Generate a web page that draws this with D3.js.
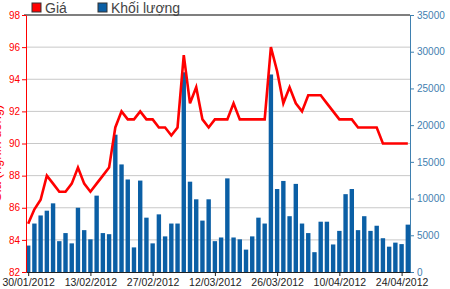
<!DOCTYPE html>
<html>
<head>
	<meta charset="utf-8">
	<title>Giá - Khối lượng</title>
	<script type="text/javascript" src="https://cdn.jsdelivr.net/npm/d3@7"></script>
	<style type="text/css">
		body { margin: 0; background: #fff; }
		.chart text { font-family: Arial, "Liberation Sans", sans-serif; }
	</style>
</head>
<body>

	<svg width=450 height=289 class="chart"></svg>

	<script type="text/javascript">

		dates = ['30/01/2012','31/01/2012','01/02/2012','02/02/2012','03/02/2012','06/02/2012','07/02/2012','08/02/2012','09/02/2012','10/02/2012',
			'13/02/2012','14/02/2012','15/02/2012','16/02/2012','17/02/2012','20/02/2012','21/02/2012','22/02/2012','23/02/2012','24/02/2012',
			'27/02/2012','28/02/2012','29/02/2012','01/03/2012','02/03/2012','05/03/2012','06/03/2012','07/03/2012','08/03/2012','09/03/2012',
			'12/03/2012','13/03/2012','14/03/2012','15/03/2012','16/03/2012','19/03/2012','20/03/2012','21/03/2012','22/03/2012','23/03/2012',
			'26/03/2012','27/03/2012','28/03/2012','29/03/2012','30/03/2012','03/04/2012','04/04/2012','05/04/2012','06/04/2012','09/04/2012',
			'10/04/2012','11/04/2012','12/04/2012','13/04/2012','16/04/2012','17/04/2012','18/04/2012','19/04/2012','20/04/2012','23/04/2012',
			'24/04/2012','25/04/2012']

		// giá (nghìn đồng)
		prices = [85.0, 85.9, 86.5, 88.0, 87.5, 87.0, 87.0, 87.5, 88.5, 87.5,
			87.0, 87.5, 88.0, 88.5, 91.0, 92.0, 91.5, 91.5, 92.0, 91.5,
			91.5, 91.0, 91.0, 90.5, 91.0, 95.5, 92.5, 93.5, 91.5, 91.0,
			91.5, 91.5, 91.5, 92.5, 91.5, 91.5, 91.5, 91.5, 91.5, 96.0,
			94.5, 92.5, 93.5, 92.5, 92.0, 93.0, 93.0, 93.0, 92.5, 92.0,
			91.5, 91.5, 91.5, 91.0, 91.0, 91.0, 91.0, 90.0, 90.0, 90.0,
			90.0, 90.0]

		// khối lượng
		volumes = [3600, 6600, 7700, 8350, 9350, 4200, 5300, 3900, 8750, 5700,
			4450, 10400, 5300, 5150, 18700, 14650, 12600, 3350, 12450, 7400,
			3900, 7850, 4850, 6600, 6600, 27200, 12300, 9900, 7000, 9900,
			4200, 4700, 12750, 4700, 4450, 3050, 4850, 7400, 6600, 26900,
			11300, 12400, 7600, 12000, 6600, 5300, 2700, 6850, 6850, 3750,
			5600, 10600, 11300, 5700, 7600, 5600, 6300, 4600, 3450, 4000,
			3800, 6450]

		tickDates = ['30/01/2012','13/02/2012','27/02/2012','12/03/2012','26/03/2012','10/04/2012','24/04/2012']
		priceTicks = [82, 84, 86, 88, 90, 92, 94, 96, 98]
		volTicks = [0, 5000, 10000, 15000, 20000, 25000, 30000, 35000]

		margin = {'top':15, 'right':40, 'bottom':17, 'left':26}
		svg = d3.select('.chart')
		active_width = svg.attr('width') - margin.left - margin.right
		active_height = svg.attr('height') - margin.top - margin.bottom

		red = '#ff0000'
		blue = '#0b5fa5'
		axis_blue = '#3f80b0'

		x = d3.scalePoint().domain(dates).range([0, active_width]).padding(0.35)
		yPrice = d3.scaleLinear().domain([82, 98]).range([active_height, 0])
		yVol = d3.scaleLinear().domain([0, 35000]).range([active_height, 0])

		g = svg.append('g')
			.attr('transform', 'translate(' + margin.left + ',' + margin.top + ')')

		// grid
		g.selectAll('.grid')
			.data(priceTicks.slice(1, -1))
			.enter()
			.append('line')
			.attr('x1', 0)
			.attr('x2', active_width)
			.attr('y1', function(d) { return yPrice(d) })
			.attr('y2', function(d) { return yPrice(d) })
			.attr('stroke', '#c8c8c8')
			.attr('stroke-width', 1)

		// bars
		bw = 4.4
		g.selectAll('.bar')
			.data(volumes)
			.enter()
			.append('rect')
			.attr('x', function(d, i) { return x(dates[i]) - bw / 2 })
			.attr('y', function(d) { return yVol(d) })
			.attr('width', bw)
			.attr('height', function(d) { return active_height - yVol(d) })
			.attr('fill', blue)

		// price line
		line = d3.line()
			.x(function(d, i) { return x(dates[i]) })
			.y(function(d) { return yPrice(d) })

		g.append('path')
			.datum(prices)
			.attr('d', line)
			.attr('fill', 'none')
			.attr('stroke', red)
			.attr('stroke-width', 2.6)
			.attr('stroke-linejoin', 'miter')

		// top border
		g.append('line')
			.attr('x1', -2).attr('x2', active_width)
			.attr('y1', 0).attr('y2', 0)
			.attr('stroke', '#555').attr('stroke-width', 1.4)

		// left axis
		leftAxis = g.append('g')
			.call(d3.axisLeft(yPrice).tickValues(priceTicks).tickSize(4).tickSizeOuter(0).tickPadding(2))
		leftAxis.select('.domain').attr('stroke', red)
		leftAxis.selectAll('.tick line').attr('stroke', red)
		leftAxis.selectAll('.tick text').attr('fill', red).style('font-size', '10px')

		// right axis
		rightAxis = g.append('g')
			.attr('transform', 'translate(' + active_width + ',0)')
			.call(d3.axisRight(yVol).tickValues(volTicks).tickFormat(d3.format('d')).tickSize(4).tickSizeOuter(0).tickPadding(3))
		rightAxis.select('.domain').attr('stroke', axis_blue)
		rightAxis.selectAll('.tick line').attr('stroke', axis_blue)
		rightAxis.selectAll('.tick text').attr('fill', axis_blue).style('font-size', '10px')

		// bottom axis
		bottomAxis = g.append('g')
			.attr('transform', 'translate(0,' + active_height + ')')
			.call(d3.axisBottom(x).tickValues(tickDates).tickSize(4).tickSizeOuter(0).tickPadding(3))
		bottomAxis.select('.domain').attr('stroke', '#222')
		bottomAxis.selectAll('.tick line').attr('stroke', '#222')
		bottomAxis.selectAll('.tick text').attr('fill', '#222').style('font-size', '10.5px')

		// y title (cut off at the left edge, as in the original)
		svg.append('text')
			.attr('transform', 'translate(1,' + (margin.top + active_height / 2 + 10) + ') rotate(-90)')
			.attr('text-anchor', 'middle')
			.attr('fill', red)
			.style('font-size', '13px')
			.text('Giá (nghìn đồng)')

		// legend
		legend = [{'name':'Giá', 'color':red, 'x':32}, {'name':'Khối lượng', 'color':blue, 'x':98}]
		lg = svg.selectAll('.legend')
			.data(legend)
			.enter()
			.append('g')
			.attr('transform', function(d) { return 'translate(' + d.x + ',3)' })
		lg.append('rect')
			.attr('width', 9).attr('height', 9)
			.attr('fill', function(d) { return d.color })
			.attr('stroke', '#333').attr('stroke-width', 1)
		lg.append('text')
			.attr('x', 13).attr('y', 10)
			.attr('fill', '#444')
			.style('font-size', '14px')
			.text(function(d) { return d.name })

	</script>

</body>
</html>
